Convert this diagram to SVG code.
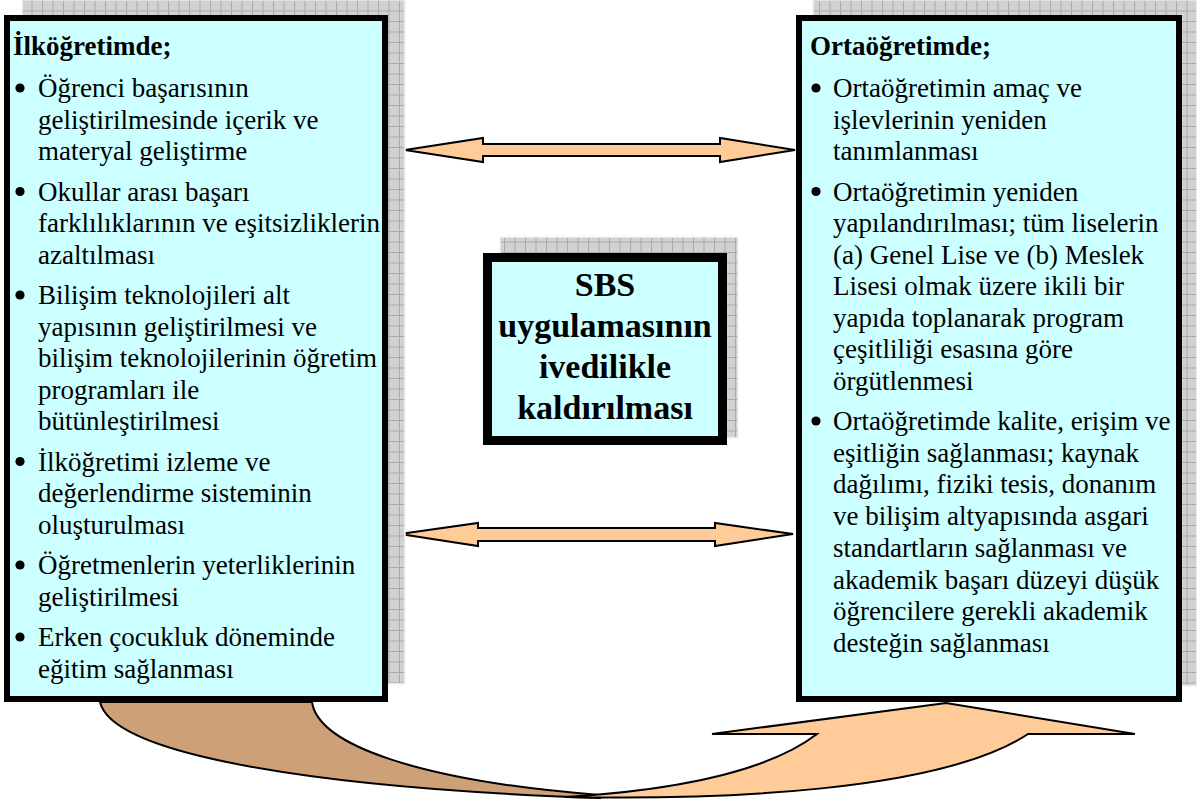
<svg xmlns="http://www.w3.org/2000/svg" width="1197" height="803" viewBox="0 0 1197 803">
<defs>
<pattern id="grid" width="10.5" height="10.5" patternUnits="userSpaceOnUse">
<rect width="10.5" height="10.5" fill="#d2d2d2"/>
<path d="M0 0.5H10.5M0.5 0V10.5" stroke="#a9a9a9" stroke-width="1"/>
</pattern>
<style>
.shadow{fill:url(#grid);stroke:#f4f4f4;stroke-width:1.5}
.box{fill:#ccffff;stroke:#000;stroke-width:6}
.t{font-family:"Liberation Serif","Times New Roman",serif;font-size:27px;fill:#000}
.b{font-weight:bold}
.c{font-family:"Liberation Serif","Times New Roman",serif;font-size:34px;font-weight:bold;text-anchor:middle}
.dot{fill:#000}
.arr{fill:#ffcc99;stroke:#000;stroke-width:2;stroke-linejoin:miter}
.brown{fill:#cda078;stroke:#000;stroke-width:2}
</style>
</defs>
<g id="connectors">
<polygon class="arr" points="405,150 483,138 483,144 720,144 720,138 795,150 720,162 720,156 483,156 483,162"/>
<polygon class="arr" points="400,534 478,523 478,528 715,528 715,523 793,534 715,546 715,541 478,541 478,546"/>
<path class="brown" d="M100,702 C112,754 310,788 600,798 L600,795 C420,781 318,745 312,702 Z"/>
<path class="arr" d="M565,797 C720,800 940,792 1028,734 L1135,734 L946,703 L712,734 L817,734 C770,770 680,790 565,797 Z"/>
</g>
<g id="node-left">
<rect class="shadow" x="22" y="0" width="383" height="684"/>
<rect class="box" x="7" y="18" width="378" height="681"/>
<text class="t b" x="13" y="55">İlköğretimde;</text>
<g class="dot"><circle cx="20" cy="88" r="4.6"/><circle cx="20" cy="191.5" r="4.6"/><circle cx="20" cy="295" r="4.6"/><circle cx="20" cy="461.5" r="4.6"/><circle cx="20" cy="565" r="4.6"/><circle cx="20" cy="637" r="4.6"/></g>
<text class="t"><tspan x="38" y="97">Öğrenci başarısının</tspan><tspan x="38" y="128.5">geliştirilmesinde içerik ve</tspan><tspan x="38" y="160">materyal geliştirme</tspan>
<tspan x="38" y="200.5">Okullar arası başarı</tspan><tspan x="38" y="232">farklılıklarının ve eşitsizliklerin</tspan><tspan x="38" y="263.5">azaltılması</tspan>
<tspan x="38" y="304">Bilişim teknolojileri alt</tspan><tspan x="38" y="335.5">yapısının geliştirilmesi ve</tspan><tspan x="38" y="367">bilişim teknolojilerinin öğretim</tspan><tspan x="38" y="398.5">programları ile</tspan><tspan x="38" y="430">bütünleştirilmesi</tspan>
<tspan x="38" y="470.5">İlköğretimi izleme ve</tspan><tspan x="38" y="502">değerlendirme sisteminin</tspan><tspan x="38" y="533.5">oluşturulması</tspan>
<tspan x="38" y="574">Öğretmenlerin yeterliklerinin</tspan><tspan x="38" y="605.5">geliştirilmesi</tspan>
<tspan x="38" y="646">Erken çocukluk döneminde</tspan><tspan x="38" y="677.5">eğitim sağlanması</tspan></text>
</g>
<g id="node-center">
<rect class="shadow" x="500" y="237" width="238" height="201"/>
<rect x="487.5" y="257.5" width="235" height="183" fill="#ccffff" stroke="#000" stroke-width="9"/>
<text class="c"><tspan x="605" y="296">SBS</tspan><tspan x="605" y="337">uygulamasının</tspan><tspan x="605" y="378">ivedilikle</tspan><tspan x="605" y="419">kaldırılması</tspan></text>
</g>
<g id="node-right">
<rect class="shadow" x="813" y="0" width="384" height="686"/>
<rect class="box" x="799" y="18" width="380" height="681"/>
<text class="t b" x="810" y="55">Ortaöğretimde;</text>
<g class="dot"><circle cx="816" cy="88" r="4.6"/><circle cx="816" cy="191.5" r="4.6"/><circle cx="816" cy="421" r="4.6"/></g>
<text class="t"><tspan x="833" y="97">Ortaöğretimin amaç ve</tspan><tspan x="833" y="128.5">işlevlerinin yeniden</tspan><tspan x="833" y="160">tanımlanması</tspan>
<tspan x="833" y="200.5">Ortaöğretimin yeniden</tspan><tspan x="833" y="232">yapılandırılması; tüm liselerin</tspan><tspan x="833" y="263.5">(a) Genel Lise ve (b) Meslek</tspan><tspan x="833" y="295">Lisesi olmak üzere ikili bir</tspan><tspan x="833" y="326.5">yapıda toplanarak program</tspan><tspan x="833" y="358">çeşitliliği esasına göre</tspan><tspan x="833" y="389.5">örgütlenmesi</tspan>
<tspan x="833" y="430">Ortaöğretimde kalite, erişim ve</tspan><tspan x="833" y="461.7">eşitliğin sağlanması; kaynak</tspan><tspan x="833" y="493.4">dağılımı, fiziki tesis, donanım</tspan><tspan x="833" y="525.1">ve bilişim altyapısında asgari</tspan><tspan x="833" y="556.8">standartların sağlanması ve</tspan><tspan x="833" y="588.5">akademik başarı düzeyi düşük</tspan><tspan x="833" y="620.2">öğrencilere gerekli akademik</tspan><tspan x="833" y="651.9">desteğin sağlanması</tspan></text>
</g>
</svg>
